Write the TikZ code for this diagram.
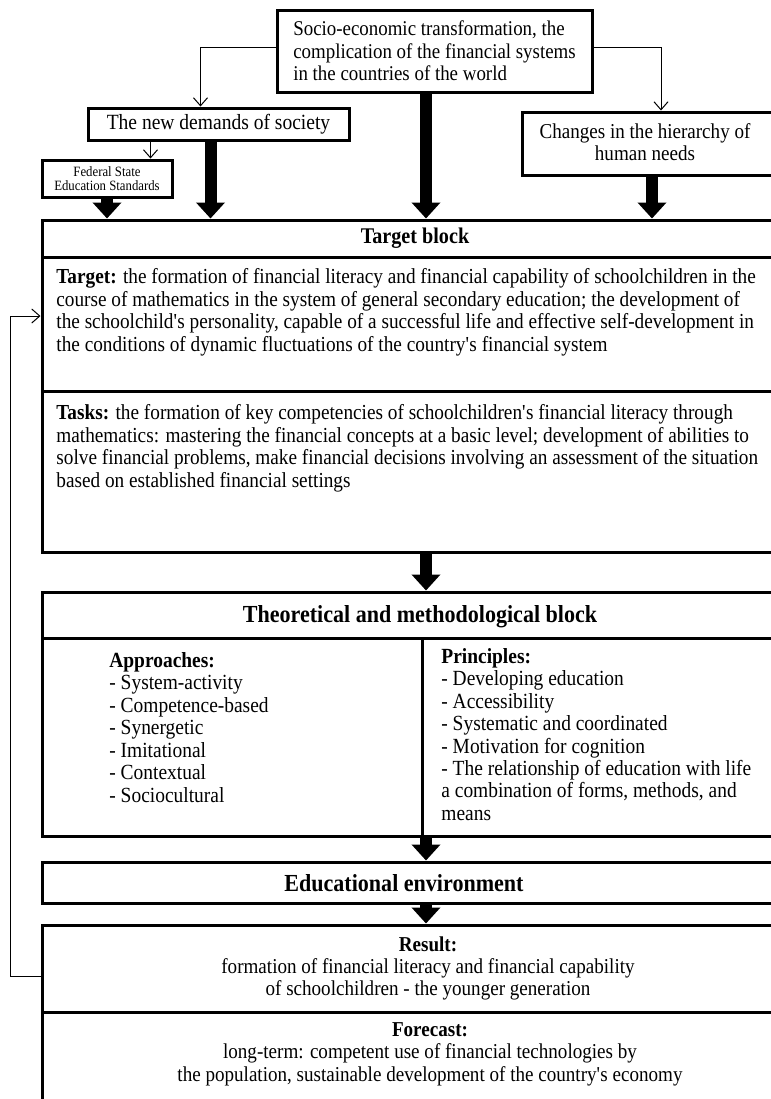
\documentclass[tikz,border=0pt]{standalone}
\usepackage{fontspec}
\setmainfont{Liberation Serif}[FakeStretch=0.9]
\usetikzlibrary{arrows.meta}

\tikzset{
  box/.style={draw, line width=1.5pt, inner sep=0pt},
  thinarrow/.style={-{Straight Barb[length=4pt,width=7pt]}, line width=0.5pt},
  fatarrow/.style={-{Triangle[length=8pt,width=14pt]}, line width=6pt},
  body/.style={font=\fontsize{10.7}{11.3}\selectfont, inner sep=0pt},
  big/.style={font=\fontsize{10.6}{11.3}\selectfont, inner sep=0pt},
  list/.style={font=\fontsize{10.8}{11.25}\selectfont, inner sep=0pt, align=left, anchor=north west},
  head/.style={font=\fontsize{12.25}{13}\selectfont\bfseries, inner sep=0pt},
}
\newcommand{\apos}{\textquotesingle}

\begin{document}
\begin{tikzpicture}[x=0.5pt,y=-0.5pt]

\useasboundingbox (0,0) rectangle (771,1099);
\clip (0,0) rectangle (771,1099);

% Top boxes
\node[box, big, font=\fontsize{10.5}{11.3}\selectfont, align=left, minimum width=157.5pt, minimum height=41pt] (socio) at (434.5,51)
  {Socio-economic transformation, the\\complication of the financial systems\\in the countries of the world};
\node[box, font=\fontsize{10.85}{13}\selectfont, minimum width=130.5pt, minimum height=16pt] (demands) at (218.5,124)
  {The new demands of society};
\node[box, minimum width=139pt, minimum height=31.5pt] (changes) at (661,143.5) {};
\node[big, align=center] (changestext) at (645,142) {Changes in the hierarchy of\\human needs};
\node[box, font=\fontsize{7.1}{7}\selectfont, align=center, minimum width=65pt, minimum height=18.5pt] (fses) at (107,178.5)
  {Federal State\\Education Standards};

% Thin arrows
\draw[thinarrow] ([yshift=2pt]socio.west) -| ([xshift=-9pt]demands.north);
\draw[thinarrow] ([yshift=2pt]socio.east) -| (changes.north);
\draw[thinarrow] ([xshift=-34pt]demands.south) -- ([xshift=-34pt]demands.south |- fses.north);

% Target block
\node[box, minimum width=386pt, minimum height=166pt] (target) at (428,386) {};
\draw[line width=1.5pt] (42,257) -- (814,257);
\draw[line width=1.5pt] (42,391) -- (814,391);
\node[body, font=\fontsize{11.2}{11.3}\selectfont\bfseries] (targethead) at (415,238) {Target block};
\node[body, align=left, anchor=north west] (targettext) at (56,268)
  {\textbf{Target:} the formation of financial literacy and financial capability of schoolchildren in the\\
   course of mathematics in the system of general secondary education; the development of\\
   the schoolchild\apos s personality, capable of a successful life and effective self-development in\\
   the conditions of dynamic fluctuations of the country\apos s financial system};
\node[body, align=left, anchor=north west] (taskstext) at (56,404)
  {\textbf{Tasks:} the formation of key competencies of schoolchildren\apos s financial literacy through\\
   mathematics: mastering the financial concepts at a basic level; development of abilities to\\
   solve financial problems, make financial decisions involving an assessment of the situation\\
   based on established financial settings};

% Theoretical and methodological block
\node[box, minimum width=386pt, minimum height=122pt] (theory) at (428,714) {};
\draw[line width=1.5pt] (42,638) -- (814,638);
\draw[line width=1.5pt] (422,638) -- (422,836);
\node[head] (theoryhead) at (420,617) {Theoretical and methodological block};
\node[list] (approaches) at (109,652)
  {\textbf{Approaches:}\\- System-activity\\- Competence-based\\- Synergetic\\- Imitational\\- Contextual\\- Sociocultural};
\node[list, font=\fontsize{10.8}{11.2}\selectfont] (principles) at (441,648)
  {\textbf{Principles:}\\- Developing education\\- Accessibility\\- Systematic and coordinated\\- Motivation for cognition\\
   - The relationship of education with life\\a combination of forms, methods, and\\means};

% Educational environment
\node[box, minimum width=386pt, minimum height=20.5pt] (environment) at (428,882.5) {};
\node[head] (envtext) at (404,883) {Educational environment};

% Result and forecast
\node[box, font=\fontsize{10.6}{11.2}\selectfont, align=center, minimum width=386pt, minimum height=43.5pt] (result) at (428,968.5)
  {\textbf{Result:}\\formation of financial literacy and financial capability\\of schoolchildren - the younger generation};
\node[box, minimum width=386pt, minimum height=59pt] (forecast) at (428,1071) {};
\node[font=\fontsize{10.6}{11.2}\selectfont, inner sep=0pt, align=center, anchor=north] (forecasttext) at (430,1022)
  {\textbf{Forecast:}\\long-term: competent use of financial technologies by\\the population, sustainable development of the country\apos s economy};

% Thick arrows
\coordinate (mid) at (426,0);
\draw[fatarrow] (fses.south) -- (fses.south |- target.north);
\draw[fatarrow] ([xshift=-4pt]demands.south) -- ([xshift=-4pt]demands.south |- target.north);
\draw[fatarrow] (socio.south -| mid) -- (target.north -| mid);
\draw[fatarrow] ([xshift=-4.5pt]changes.south) -- ([xshift=-4.5pt]changes.south |- target.north);
\draw[fatarrow] (target.south -| mid) -- (theory.north -| mid);
\draw[fatarrow] (theory.south -| mid) -- (environment.north -| mid);
\draw[fatarrow] (environment.south -| mid) -- (result.north -| mid);

% Feedback
\draw[thinarrow] ([yshift=-4pt]result.west) -- ++(-30,0) |- ([yshift=35pt]target.west);

\end{tikzpicture}
\end{document}
